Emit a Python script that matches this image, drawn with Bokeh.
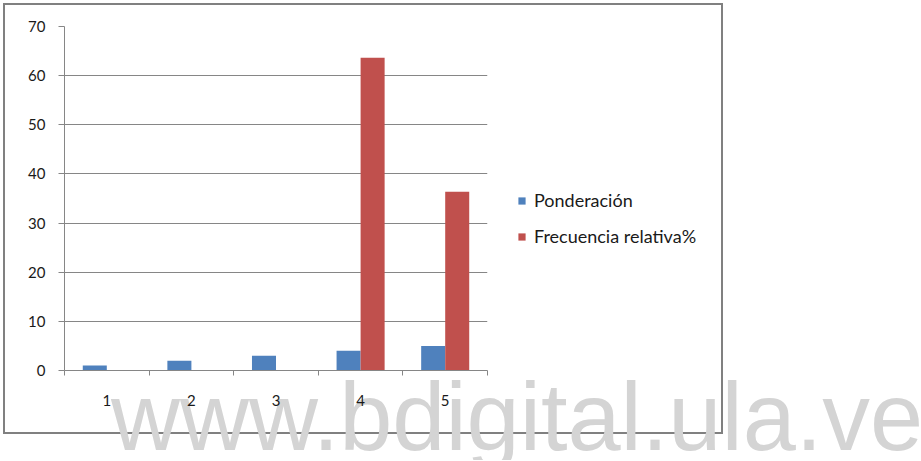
from bokeh.plotting import figure
from bokeh.layouts import column
from bokeh.models import (ColumnDataSource, FixedTicker, Legend, LegendItem,
                          Range1d, Div)
from bokeh.transform import dodge
from bokeh.embed import file_html
from bokeh.resources import INLINE

categories = [1, 2, 3, 4, 5]
ponderacion = [1, 2, 3, 4, 5]
frecuencia = [0, 0, 0, 63.64, 36.36]
y_ticks = [0, 10, 20, 30, 40, 50, 60, 70]
series_names = ["Ponderación", "Frecuencia relativa%"]
watermark_text = "www.bdigital.ula.ve"

BLUE = "#4F81BD"
RED = "#C0504D"
GRAY = "#868686"
FONT = "Lato"

src = ColumnDataSource(dict(x=categories, p=ponderacion, f=frecuencia))

p = figure(frame_width=423, frame_height=344, output_backend="svg", toolbar_location=None,
           x_range=Range1d(0.5, 5.5), y_range=Range1d(0, 70),
           min_border_left=64, min_border_right=0, min_border_top=26,
           min_border_bottom=91)
p.outline_line_color = None
p.background_fill_alpha = 0
p.border_fill_alpha = 0

bw = 0.284
r1 = p.vbar(x=dodge("x", -bw / 2, range=p.x_range), top="p", width=bw, source=src,
            fill_color=BLUE, line_color=None)
r2 = p.vbar(x=dodge("x", bw / 2, range=p.x_range), top="f", width=bw, source=src,
            fill_color=RED, line_color=None)

# axes
p.xgrid.visible = False
p.ygrid.grid_line_color = GRAY
p.ygrid.grid_line_width = 1
p.yaxis.ticker = FixedTicker(ticks=y_ticks)
p.xaxis.ticker = FixedTicker(ticks=categories,
                             minor_ticks=[c - 0.5 for c in categories] + [categories[-1] + 0.5])
for ax in (p.xaxis[0], p.yaxis[0]):
    ax.axis_line_color = GRAY
    ax.major_tick_line_color = GRAY
    ax.minor_tick_line_color = GRAY
    ax.major_label_text_font = FONT
    ax.major_label_text_font_size = "15px"
    ax.major_label_text_color = "#1a1a1a"
p.yaxis.major_tick_out = 6
p.yaxis.major_tick_in = 0
p.yaxis.minor_tick_line_color = None
p.yaxis.major_label_standoff = 13
p.xaxis.major_tick_out = 0
p.xaxis.major_tick_in = 0
p.xaxis.minor_tick_out = 5
p.xaxis.minor_tick_in = 0
p.xaxis.major_label_standoff = 19

legend = Legend(items=[LegendItem(label=series_names[0], renderers=[r1]),
                       LegendItem(label=series_names[1], renderers=[r2])],
                location=(30, 123), orientation="vertical")
legend.border_line_color = None
legend.background_fill_alpha = 0
legend.padding = 0
legend.margin = 0
legend.glyph_width = 9
legend.glyph_height = 9
legend.label_standoff = 8
legend.label_height = 22
legend.spacing = 14
legend.label_text_font = FONT
legend.label_text_font_size = "18px"
legend.label_text_color = "#1a1a1a"
p.add_layout(legend, "right")

box = Div(text="", width=716, height=427,
          styles={"position": "absolute", "left": "-2px", "top": "-2px",
                  "border": "2px solid #808080", "z-index": "-2",
                  "box-sizing": "content-box"})

wm = Div(text=watermark_text, width=809, height=90,
         styles={"position": "absolute", "left": "106px", "top": "365px",
                 "font-family": "'Liberation Sans', Arial, sans-serif",
                 "font-size": "95.5px", "line-height": "95.5px", "color": "#d4d4d4",
                 "white-space": "nowrap", "overflow": "hidden", "z-index": "-1"})

layout = column(p, box, wm)

open("out.html", "w").write(file_html(layout, INLINE))
